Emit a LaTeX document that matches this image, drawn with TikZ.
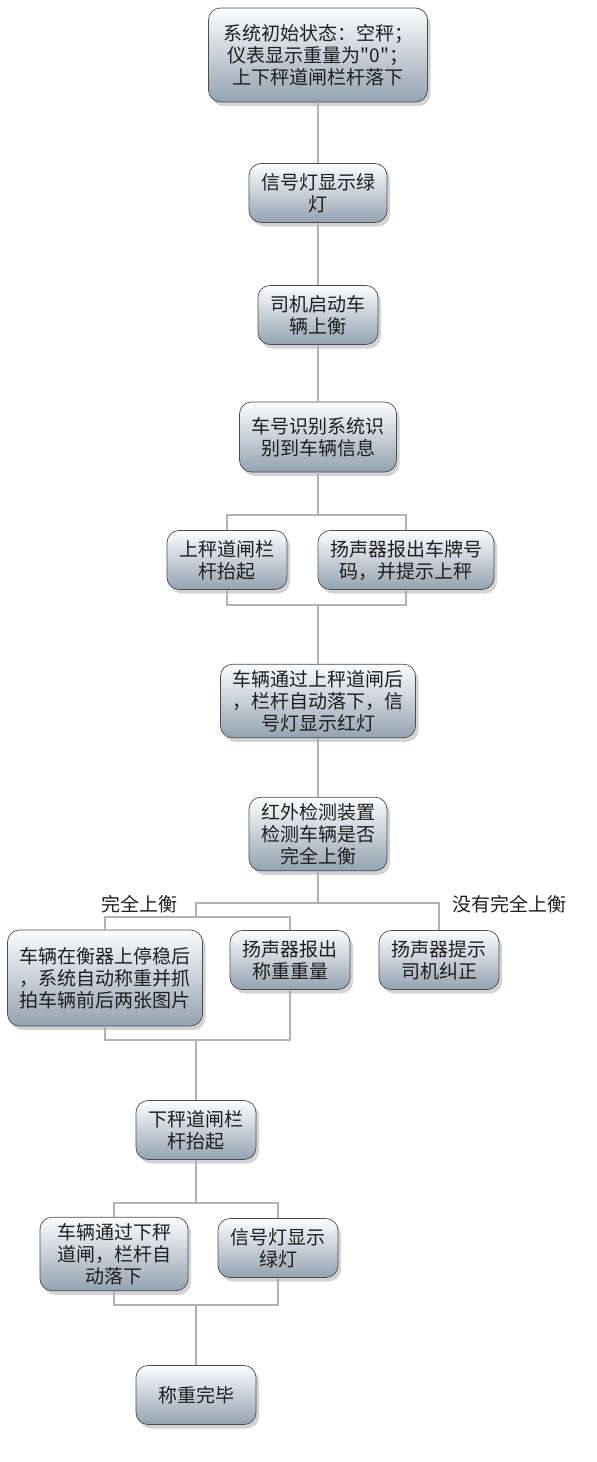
\documentclass[tikz,border=0pt]{standalone}
\usepackage{fontspec}
\newfontfamily\cjk{Noto Sans CJK SC}
\usepackage{tikz}
\usetikzlibrary{shadows}
\definecolor{boxtop}{RGB}{252,253,254}
\definecolor{boxbot}{RGB}{148,162,177}
\definecolor{linkgray}{RGB}{178,178,178}
\definecolor{textgray}{RGB}{30,30,30}

\begin{document}
\begin{tikzpicture}[
    x=1pt, y=-1pt,
    block/.style={rectangle, draw=black!70, line width=0.7pt, rounded corners=12pt, top color=boxtop, bottom color=boxbot, inner xsep=12pt, inner ysep=6pt, minimum width=120pt, minimum height=59pt, align=center, text=textgray, font=\cjk\fontsize{19}{22}\selectfont, drop shadow={shadow xshift=3pt, shadow yshift=-4pt, opacity=0.35}},
    tag/.style={text=textgray, font=\cjk\fontsize{19}{22}\selectfont},
    link/.style={draw=linkgray, line width=2pt}
]
\useasboundingbox (0,0) rectangle (597,1462);

\node[block, minimum width=219pt, minimum height=94pt] (init) at (318,55) {系统初始状态：空秤；\\仪表显示重量为"0"；\\上下秤道闸栏杆落下};
\node[block] (green) at (318,193) {信号灯显示绿\\灯};
\node[block] (start) at (318,315) {司机启动车\\辆上衡};
\node[block, minimum height=70pt] (recog) at (318,437) {车号识别系统识\\别到车辆信息};
\node[block] (gateup) at (227,560) {上秤道闸栏\\杆抬起};
\node[block] (plate) at (406,560) {扬声器报出车牌号\\码，并提示上秤};
\node[block] (redlight) at (318,701) {车辆通过上秤道闸后\\，栏杆自动落下，信\\号灯显示红灯};
\node[block] (infra) at (318,834) {红外检测装置\\检测车辆是否\\完全上衡};
\node[block, minimum height=96pt] (park) at (105,978) {车辆在衡器上停稳后\\，系统自动称重并抓\\拍车辆前后两张图片};
\node[block] (weight) at (290,960) {扬声器报出\\称重重量};
\node[block] (prompt) at (439,960) {扬声器提示\\司机纠正};
\node[block] (gatedown) at (196,1130) {下秤道闸栏\\杆抬起};
\node[block, minimum width=148pt] (pass) at (114,1254) {车辆通过下秤\\道闸，栏杆自\\动落下};
\node[block] (green2) at (278,1248) {信号灯显示\\绿灯};
\node[block] (done) at (196,1395) {称重完毕};

\node[tag] (yes) at (139,904) {完全上衡};
\node[tag] (no) at (509,904) {没有完全上衡};

\coordinate (split1) at (318,515);
\coordinate (join1) at (318,605);
\coordinate (split2) at (318,903);
\coordinate (split3) at (196,917);
\coordinate (join3) at (196,1040);
\coordinate (split4) at (196,1203);
\coordinate (join4) at (196,1305);

\draw[link] (init) -- (green);
\draw[link] (green) -- (start);
\draw[link] (start) -- (recog);
\draw[link] (recog) -- (split1);
\draw[link] (split1) -| (gateup);
\draw[link] (split1) -| (plate);
\draw[link] (gateup) |- (join1);
\draw[link] (plate) |- (join1);
\draw[link] (join1) -- (redlight);
\draw[link] (redlight) -- (infra);
\draw[link] (infra) -- (split2);
\draw[link] (split2) -| (split3);
\draw[link] (split2) -| (prompt);
\draw[link] (split3) -| (park);
\draw[link] (split3) -| (weight);
\draw[link] (park) |- (join3);
\draw[link] (weight) |- (join3);
\draw[link] (join3) -- (gatedown);
\draw[link] (gatedown) -- (split4);
\draw[link] (split4) -| (pass);
\draw[link] (split4) -| (green2);
\draw[link] (pass) |- (join4);
\draw[link] (green2) |- (join4);
\draw[link] (join4) -- (done);
\end{tikzpicture}
\end{document}
